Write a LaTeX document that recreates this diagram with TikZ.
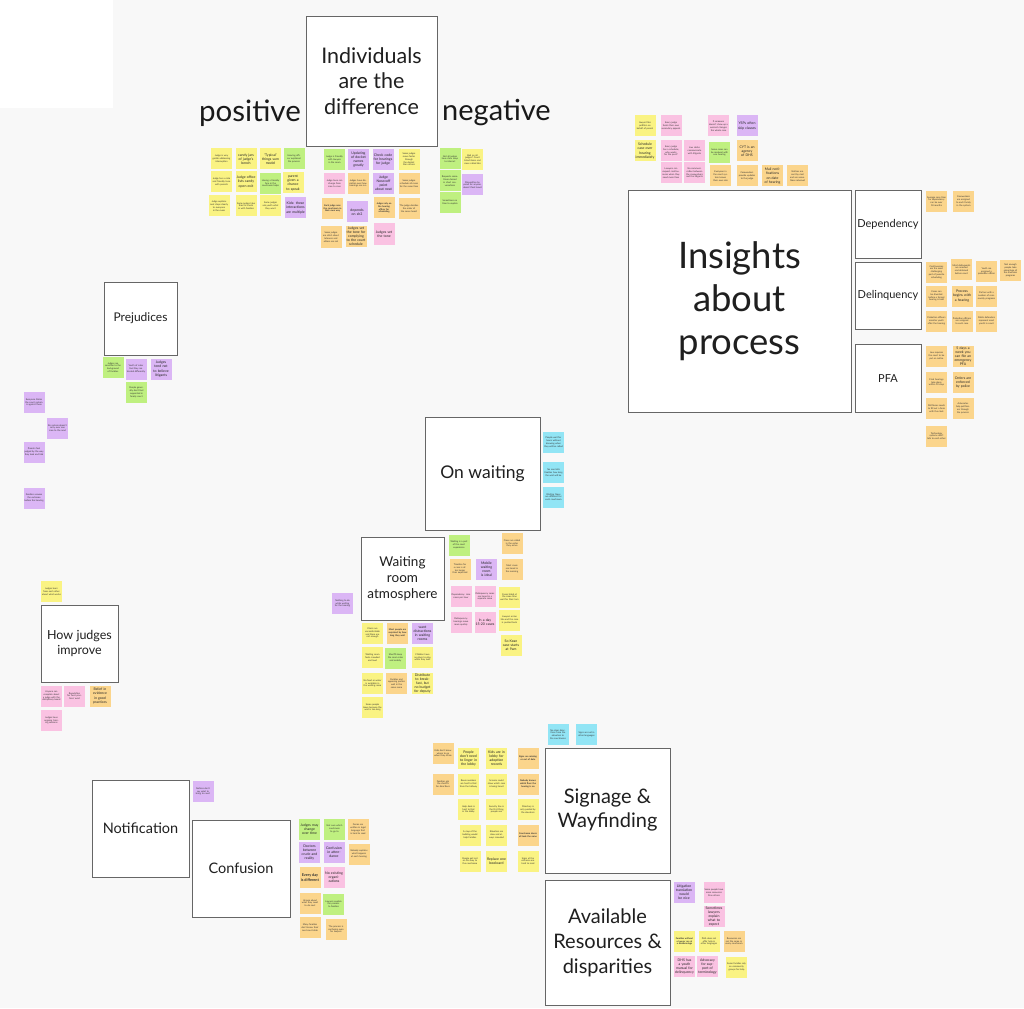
\documentclass[tikz,border=0pt]{standalone}
\usepackage{fontspec}
\setmainfont{Lato}
\usepackage{tikz}
\usetikzlibrary{positioning}
\definecolor{bgray}{HTML}{F8F8F8}
\definecolor{stkY}{HTML}{FAF383}
\definecolor{stkG}{HTML}{BFF080}
\definecolor{stkP}{HTML}{FAC2E2}
\definecolor{stkV}{HTML}{DBB6F5}
\definecolor{stkO}{HTML}{FBD58C}
\definecolor{stkC}{HTML}{92E5F5}
\tikzset{
  bigbox/.style={draw=black!60,fill=white,line width=0.9pt,align=center,text=black!88,inner sep=2pt},
  note/.style={minimum size=21pt,inner sep=0.8pt,text width=19pt,align=center,
    font=\fontsize{2.3}{2.8}\selectfont,text=black!80},
  nsml/.style={},
  nbig/.style={font=\fontsize{3.5}{4.1}\selectfont,text=black!85},
  nbold/.style={font=\fontsize{2.3}{2.8}\selectfont\bfseries},
  label/.style={text=black!90,inner sep=0pt}
}

\begin{document}
\begin{tikzpicture}[x=1pt,y=-1pt]
\fill[bgray] (0,0) rectangle (1024,1008);
\fill[white] (0,0) rectangle (113,108);
\useasboundingbox (0,0) rectangle (1024,1008);

% Headers
\node[bigbox,minimum width=131,minimum height=130,font=\fontsize{21.5}{25.5}\selectfont] (indiv) at (371.5,81) {Individuals\\are the\\difference};
\node[label,anchor=east,font=\fontsize{29.5}{32}\selectfont] (poslbl) at (301,113) {positive};
\node[label,anchor=west,font=\fontsize{29}{32}\selectfont] (neglbl) at (442,113) {negative};
\node[bigbox,minimum width=223,minimum height=222,font=\fontsize{36.5}{43}\selectfont] (insight) at (739.5,301) {Insights\\about\\process};
\node[bigbox,minimum width=66,minimum height=68,font=\fontsize{11}{13}\selectfont] (depend) at (888,224) {Dependency};
\node[bigbox,minimum width=66,minimum height=67,font=\fontsize{11}{13}\selectfont] (delinq) at (888,295.5) {Delinquency};
\node[bigbox,minimum width=66,minimum height=68,font=\fontsize{11}{13}\selectfont] (pfa) at (888,378.5) {PFA};
\node[bigbox,minimum width=73,minimum height=73,font=\fontsize{12}{14}\selectfont] (prejud) at (140.5,318.5) {Prejudices};
\node[bigbox,minimum width=115,minimum height=113,font=\fontsize{17.5}{20}\selectfont] (onwait) at (482.5,473.5) {On waiting};
\node[bigbox,minimum width=83,minimum height=83,font=\fontsize{13.5}{16}\selectfont] (wroom) at (402.5,578.5) {Waiting\\room\\atmosphere};
\node[bigbox,minimum width=77,minimum height=77,font=\fontsize{12.5}{15.5}\selectfont] (improve) at (79.5,643.5) {How judges\\improve};
\node[bigbox,minimum width=97,minimum height=97,font=\fontsize{14.5}{17}\selectfont] (notif) at (140.5,828.5) {Notification};
\node[bigbox,minimum width=98,minimum height=97,font=\fontsize{14.5}{17}\selectfont] (confus) at (241,868.5) {Confusion};
\node[bigbox,minimum width=125,minimum height=125,font=\fontsize{20}{24}\selectfont] (signage) at (607.5,810.5) {Signage \&\\Wayfinding};
\node[bigbox,minimum width=125,minimum height=125,font=\fontsize{20}{25}\selectfont] (avail) at (607.5,942.5) {Available\\Resources \&\\disparities};

% positive
\foreach \x/\y/\c/\s/\t [count=\i] in {
  221.5/159/stkY/nsml/{Judge is very gentle addressing interruption},
  246/159/stkY/nbig/{candy jars of judge's bench},
  270.5/159/stkY/nbig/{'Typical' things sum model},
  294/159/stkG/nsml/{Hearing officer explained the process},
  221.5/182/stkY/nsml/{Judge has a calm and friendly tone with parents},
  246/182/stkY/nbig/{Judge office lists candy open exit},
  270.5/183.5/stkG/nsml/{Having a friendly face in the courtroom helps},
  293/183/stkY/nbig/{parent given a chance to speak},
  219/206/stkY/nsml/{Judge explains next steps clearly to everyone in the room},
  246/206/stkY/nsml/{Some judges take time to check in with families},
  270.5/206/stkY/nsml/{Some judges ask youth what they want},
  295.5/208/stkV/nbig/{Kids: these interactions are multiple}}
  \node[note,fill=\c,\s] (pos\i) at (\x,\y) {\t};

% neutral
\foreach \x/\y/\c/\s/\t [count=\i] in {
  334.5/159.5/stkG/nsml/{Judge is friendly with lawyers in the room},
  358.5/159.5/stkV/nbig/{Updating of docket names greatly},
  383/159.5/stkV/nbig/{Check code for hearings for judge},
  409/159.5/stkY/nsml/{Some judges move faster through the docket than others},
  334.5/183.5/stkP/nsml/{Judge tone can change from case to case},
  358/183.5/stkO/nsml/{Judges have discretion over how hearings are run},
  383.5/183.5/stkV/nbig/{Judge Nosecoff point about neat},
  409/183.5/stkO/nsml/{Some judges schedule all cases for the same time},
  332.5/208.5/stkO/nbold/{Each judge runs the courtroom in their own way},
  357/212/stkV/nbig/{depends on sh2},
  384/208/stkO/nbold/{Judges rely on the hearing officer for scheduling},
  409/208.5/stkO/nsml/{The judge decides the order of the cases heard},
  331/237/stkO/nsml/{Some judges are strict about lateness and others are not},
  356/236.5/stkO/nbig/{Judges set the tone for complying to the court schedule},
  384/234/stkP/nbig/{Judges set the tone}}
  \node[note,fill=\c,\s] (mid\i) at (\x,\y) {\t};

% negative
\foreach \x/\y/\c/\s/\t [count=\i] in {
  450/159/stkG/nsml/{Not all judges have clear ways to interact},
  472.5/159.5/stkY/nsml/{Bad on all judges? Court listed items and cases called late},
  450/181/stkG/nsml/{Requests sometimes denied in short conversations},
  472.5/185/stkV/nsml/{Disposition by panel for anyone, doesn't feel heard},
  450/202.5/stkG/nsml/{Sometimes no time to explain}}
  \node[note,fill=\c,\s] (neg\i) at (\x,\y) {\t};

% process, top
\foreach \x/\y/\c/\s/\t [count=\i] in {
  645/126/stkY/nsml/{lawyer files petition on behalf of parent},
  671/126/stkP/nsml/{Every judge funds their own secondary appeals},
  718.5/126/stkP/nsml/{If someone doesn't show up a warrant changes the whole case},
  747/126/stkV/nbig/{YSPs often skip classes},
  645/151/stkY/nbig/{Schedule case over hearing immediately},
  671/151/stkP/nsml/{Every judge has a schedule; who works for the post?},
  694.5/151/stkP/nsml/{Law clerks communicate with litigants},
  719.5/152.5/stkG/nsml/{Some cases can be resolved with one hearing},
  747/151/stkO/nbig/{CYT is an agency of DHS},
  671/173/stkP/nsml/{Lawyers can request continuances when they need more time},
  694.5/173/stkP/nsml/{No communication between the caseworkers and the litigants},
  720.5/176/stkO/nsml/{Everyone in the court system knows their own role},
  747/176/stkO/nsml/{Caseworkers provide updates to the judge},
  772.5/176/stkO/nbig/{Mail notifications on date of hearing},
  797.5/176/stkO/nsml/{Notices are sent by mail and are sometimes returned}}
  \node[note,fill=\c,\s] (top\i) at (\x,\y) {\t};

% Dependency, Delinquency, PFA
\foreach \x/\y/\c/\s/\t [count=\i] in {
  936.5/201.5/stkO/nsml/{Average case time for dependency can be over 18 months},
  963.5/201.5/stkO/nsml/{Caseworkers are assigned to each family in the system},
  936.5/272/stkO/nsml/{Continuances are the most challenging part of juvenile scheduling},
  961.5/269.5/stkO/nsml/{Most delinquents are arrested and detained before court},
  986.5/271.5/stkO/nsml/{Youth are assigned a probation officer},
  1010.5/270.5/stkO/nsml/{Not enough people take advantage of the diversion programs},
  936.5/296/stkO/nsml/{Cases can be diverted before a formal hearing is held},
  962/296/stkO/nbig/{Process begins with a hearing},
  986.5/296/stkO/nsml/{Partner with a number of community programs},
  936.5/321/stkO/nsml/{Probation officers monitor youth after the hearing},
  962/321/stkO/nsml/{Probation officers are assigned to each case},
  986.5/321/stkO/nsml/{Public defenders represent most youth in court},
  936.5/356/stkO/nsml/{Law requires the court to be put on notice},
  963/356/stkO/nbig/{5 days a week you can file an emergency PFA},
  936.5/382.5/stkO/nsml/{Final hearings take place within 10 days},
  963/382.5/stkO/nbig/{Orders are enforced by police},
  936.5/408.5/stkO/nsml/{Petitioner needs to fill out a form with the clerk},
  963/408.5/stkO/nsml/{Advocates help petitioners through the process},
  936.5/436/stkO/nsml/{Technology systems don't talk to each other}}
  \node[note,fill=\c,\s] (proc\i) at (\x,\y) {\t};

% Prejudices
\foreach \x/\y/\c/\s/\t [count=\i] in {
  113/367.5/stkG/nsml/{Judges are sensitive to the background of families},
  136/369/stkV/nsml/{Youth of color feel they are treated differently},
  161/369/stkV/nbig/{Judges tend not to believe litigants},
  136.5/392.5/stkG/nsml/{People generally don't feel supported in family court},
  34/402.5/stkV/nsml/{Everyone thinks the court system is against them},
  57.5/428/stkV/nsml/{Re system doesn't carry over one case to the next},
  34/452/stkV/nsml/{Parents feel judged by the way they look and talk},
  34/498/stkV/nsml/{Families assume the outcome before the hearing}}
  \node[note,fill=\c,\s] (prej\i) at (\x,\y) {\t};

% On waiting
\foreach \x/\y/\c/\s/\t [count=\i] in {
  553.5/442.5/stkC/nsml/{People wait for hours without knowing when they will be called},
  553.5/472.5/stkC/nsml/{No one tells families how long the wait will be},
  553.5/497/stkC/nsml/{Waiting times are different for each courtroom}}
  \node[note,fill=\c,\s] (wait\i) at (\x,\y) {\t};

% Waiting room atmosphere
\foreach \x/\y/\c/\s/\t [count=\i] in {
  342.5/603.5/stkV/nsml/{Nothing to do while waiting for the hearing},
  372.5/633/stkY/nsml/{Chairs are uncomfortable and there are not enough},
  397.5/633/stkO/nbold/{Most people are surprised by how long they wait},
  422.5/633/stkV/nbig/{want distractions in waiting rooms},
  372.5/657.5/stkY/nsml/{Waiting room feels crowded and loud},
  395.5/658/stkG/nsml/{Sheriffs keep the room calm and orderly},
  422.5/657.5/stkY/nsml/{Children have no place to play while they wait},
  372.5/683.5/stkY/nsml/{No food or water is available in the waiting room},
  396.5/683.5/stkO/nsml/{Families and opposing parties wait in the same room},
  422.5/683.5/stkY/nbig/{Distribute to breakfast, but no budget for deputy},
  372.5/707.5/stkY/nsml/{Some people leave because the wait is too long},
  459/545/stkG/nsml/{Waiting is a part of the court experience},
  512/543.5/stkO/nsml/{Cases are called in the order they arrive},
  460/569/stkO/nsml/{Timeline for a case is often longer than expected},
  486.5/569/stkV/nbig/{Mobile waiting room is ideal},
  512/569/stkO/nsml/{Most cases are heard in the morning},
  461/596.5/stkP/nsml/{Dependency: nine cases per hour},
  485/596.5/stkP/nsml/{Delinquency cases are heard in a separate room},
  509.5/597/stkY/nsml/{Cases listed at the same time wait for their turn},
  461/622/stkP/nsml/{Delinquency: hearings move more quickly},
  485/622/stkP/nbig/{In a day 15-20 cases},
  509.5/620/stkY/nsml/{Lawyers arrive late and the case is pushed back},
  511/645.5/stkY/nbig/{So Kean case starts at 9am}}
  \node[note,fill=\c,\s] (room\i) at (\x,\y) {\t};

% How judges improve
\foreach \x/\y/\c/\s/\t [count=\i] in {
  51.5/591.5/stkY/nsml/{Judges learn from each other about what works},
  51.5/696/stkP/nsml/{Anyone can complain about a judge with the disciplinary board},
  74.5/696/stkP/nsml/{Reputation for 'best practices' exist},
  100/696/stkO/nbig/{Belief in evidence in good practices},
  51.5/720.5/stkP/nsml/{Judges have ongoing training sessions}}
  \node[note,fill=\c,\s] (impr\i) at (\x,\y) {\t};

% Notification and Confusion
\foreach \x/\y/\c/\s/\t [count=\i] in {
  203/791.5/stkV/nsml/{Notices don't say what to bring to court},
  309.5/829/stkG/nbig/{Judges may change over time},
  334.5/829/stkG/nsml/{Not sure which courtroom to go to},
  358/829/stkO/nsml/{Forms are written in legal language that is hard to read},
  309.5/852.5/stkV/nbig/{Doctors between crude and reality},
  334/852.5/stkV/nbig/{Confusion in attendance},
  359/854/stkO/nsml/{Nobody explains what happens at each hearing},
  310/877.5/stkO/nbold/{\fontsize{3.8}{4.4}\selectfont Every day is different},
  334/877.5/stkP/nbig/{No existing organizations},
  310/903/stkO/nsml/{Unsure about what they need to do next},
  333.5/904/stkG/nsml/{Lawyers explain the process to families},
  310/927.5/stkO/nsml/{Many families don't know their next court date},
  336/929.5/stkO/nsml/{The process is confusing even for lawyers}}
  \node[note,fill=\c,\s] (conf\i) at (\x,\y) {\t};

% Signage and Wayfinding
\foreach \x/\y/\c/\s/\t [count=\i] in {
  558/734.5/stkC/nsml/{No clear directions from the elevators to the courtrooms},
  586.5/734.5/stkC/nsml/{Signs are not in other languages},
  443/753.5/stkO/nsml/{Kids don't know where to go when they arrive},
  468.5/758.5/stkY/nbig/{People don't need to linger in the lobby},
  496.5/758.5/stkY/nbig/{Kids are in lobby for adoption records},
  528/758.5/stkO/nbold/{Signs are missing or out of date},
  443/784/stkO/nsml/{Families ask the sheriffs for directions},
  468.5/784/stkY/nsml/{Room numbers are hard to find from the hallway},
  496.5/784/stkY/nsml/{Screens could show which case is being heard},
  528/784/stkO/nbold/{Nobody knows which floor the hearing is on},
  468.5/809.5/stkY/nsml/{Help desk is hard to find in the lobby},
  496.5/809.5/stkY/nsml/{Security line is the first thing people see},
  528/809.5/stkY/nsml/{Directory is only posted by the elevators},
  470/835/stkY/nsml/{A map of the building would help families},
  496.5/835/stkY/nsml/{Elevators are slow and always crowded},
  528/835/stkO/nbold/{Courtroom doors all look the same},
  470/861/stkY/nsml/{People get lost on the way to the courtroom},
  496.5/861/stkY/nbig/{Replace one bookcard},
  528/861/stkY/nsml/{Signs at the entrance are hard to read}}
  \node[note,fill=\c,\s] (sign\i) at (\x,\y) {\t};

% Available Resources and disparities
\foreach \x/\y/\c/\s/\t [count=\i] in {
  684/892/stkV/nbig/{Litigation translation would be nice},
  714/892.5/stkP/nsml/{Some people have more resources than others},
  714/916.5/stkP/nbig/{Sometimes lawyers explain what to expect},
  684.5/941.5/stkY/nbold/{Families without a lawyer are at a disadvantage},
  709/941.5/stkY/nsml/{PHA does not offer help in other languages},
  734/941.5/stkO/nsml/{Resources are not the same in every courtroom},
  684.5/966.5/stkP/nbig/{DHS has a youth manual for delinquency},
  707.5/966.5/stkP/nbig/{Advocacy for support of terminology},
  736.5/967/stkY/nsml/{Some families rely on community groups for help}}
  \node[note,fill=\c,\s] (res\i) at (\x,\y) {\t};
\end{tikzpicture}
\end{document}
